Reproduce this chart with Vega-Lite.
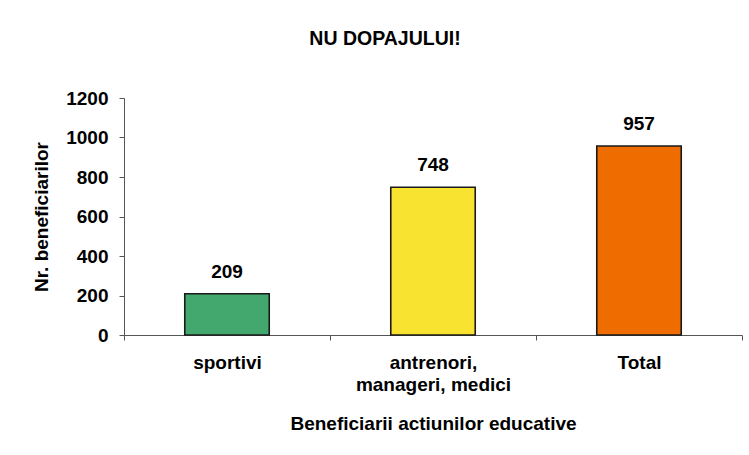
{
  "$schema": "https://vega.github.io/schema/vega-lite/v6.json",
  "width": 618,
  "height": 237,
  "padding": {"left": 32, "top": 28, "right": 5, "bottom": 5},
  "background": "white",
  "title": {"text": "NU DOPAJULUI!", "font": "Liberation Sans", "fontSize": 19.5, "fontWeight": "bold", "color": "black", "offset": 40, "anchor": "middle", "dx": -48},
  "data": {"values": [
    {"cat": "sportivi", "val": 209, "color": "#43A86E"},
    {"cat": "antrenori, manageri, medici", "val": 748, "color": "#F8E430"},
    {"cat": "Total", "val": 957, "color": "#EE6C00"}
  ]},
  "encoding": {
    "x": {"field": "cat", "type": "nominal", "sort": null,
      "scale": {"paddingInner": 0, "paddingOuter": 0},
      "axis": {"title": "Beneficiarii actiunilor educative", "labelAngle": 0, "tickBand": "extent",
        "labelExpr": "datum.label == 'antrenori, manageri, medici' ? ['antrenori,', 'manageri, medici'] : datum.label"}},
    "y": {"field": "val", "type": "quantitative",
      "scale": {"domain": [0, 1200]},
      "axis": {"title": "Nr. beneficiarilor", "format": "d", "values": [0, 200, 400, 600, 800, 1000, 1200], "grid": false}}
  },
  "layer": [
    {"mark": {"type": "bar", "width": {"band": 0.41}, "stroke": "#1a1a1a", "strokeWidth": 1.6},
     "encoding": {"color": {"field": "color", "type": "nominal", "scale": null}}},
    {"mark": {"type": "text", "dy": -16, "baseline": "alphabetic", "font": "Liberation Sans", "fontSize": 19, "fontWeight": "bold", "color": "black"},
     "encoding": {"text": {"field": "val", "type": "quantitative"}}}
  ],
  "config": {
    "view": {"stroke": null},
    "axis": {"labelFont": "Liberation Sans", "labelFontSize": 19, "labelFontWeight": "bold", "labelColor": "black",
      "titleFont": "Liberation Sans", "titleFontSize": 19, "titleFontWeight": "bold", "titleColor": "black",
      "domainColor": "#555", "tickColor": "#555", "tickSize": 5},
    "axisX": {"labelPadding": 13, "titlePadding": 20, "labelLineHeight": 22},
    "axisY": {"labelPadding": 11, "titlePadding": 14}
  }
}
